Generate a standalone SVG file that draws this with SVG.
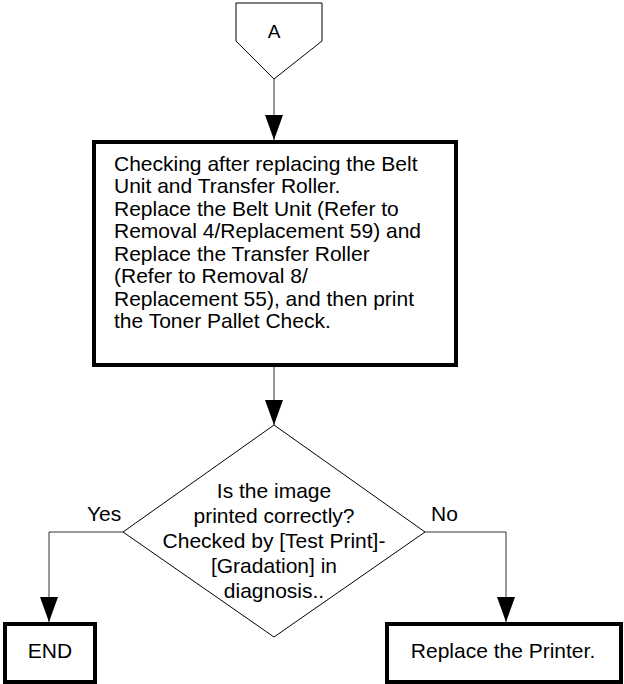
<svg xmlns="http://www.w3.org/2000/svg" width="624" height="684" viewBox="0 0 624 684">
<style>
  .t { font-family: "Liberation Sans", Arial, sans-serif; font-size: 21px; fill: #000; }
  .c { text-anchor: middle; }
  .thin { fill: #fff; stroke: #000; stroke-width: 1; }
  .thick { fill: #fff; stroke: #000; stroke-width: 4; }
  .conn { fill: none; stroke: #333; stroke-width: 1; }
</style>
<defs>
  <marker id="arr" markerUnits="userSpaceOnUse" markerWidth="25" markerHeight="18" refX="25" refY="9" orient="auto" viewBox="0 0 25 18">
    <path d="M0,0 L25,9 L0,18 z" fill="#000"/>
  </marker>
</defs>
<rect width="624" height="684" fill="#fff"/>
<g id="connectors">
  <path class="conn" d="M274,79 V140" marker-end="url(#arr)"/>
  <path class="conn" d="M274,367 V425" marker-end="url(#arr)"/>
  <path class="conn" d="M123,532 H49 V622" marker-end="url(#arr)"/>
  <path class="conn" d="M425,532 H506 V622" marker-end="url(#arr)"/>
</g>
<g id="nodeA">
  <polygon class="thin" points="236,3 322,3 322,41 274,79 236,41"/>
  <text class="t c" x="274" y="38" style="font-size:19px">A</text>
</g>
<g id="nodeCheck">
  <rect class="thick" x="94" y="142" width="362" height="223"/>
  <text class="t" x="114" y="170.5">Checking after replacing the Belt</text>
  <text class="t" x="114" y="193">Unit and Transfer Roller.</text>
  <text class="t" x="114" y="215.5">Replace the Belt Unit (Refer to</text>
  <text class="t" x="114" y="238">Removal 4/Replacement 59) and</text>
  <text class="t" x="114" y="260.5">Replace the Transfer Roller</text>
  <text class="t" x="114" y="283">(Refer to Removal 8/</text>
  <text class="t" x="114" y="305.5">Replacement 55), and then print</text>
  <text class="t" x="114" y="328">the Toner Pallet Check.</text>
</g>
<g id="nodeDecision">
  <polygon class="thin" points="274,425 425,532 274,637 123,532"/>
  <text class="t c" x="274" y="498">Is the image</text>
  <text class="t c" x="274" y="523">printed correctly?</text>
  <text class="t c" x="274" y="548">Checked by [Test Print]-</text>
  <text class="t c" x="274" y="573">[Gradation] in</text>
  <text class="t c" x="274" y="598">diagnosis..</text>
</g>
<g id="labels">
  <text class="t" x="87" y="521">Yes</text>
  <text class="t" x="431" y="521">No</text>
</g>
<g id="nodeEnd">
  <rect class="thick" x="5" y="624" width="90" height="58"/>
  <text class="t c" x="50" y="658">END</text>
</g>
<g id="nodeReplace">
  <rect class="thick" x="387" y="624" width="234" height="58"/>
  <text class="t c" x="503" y="658">Replace the Printer.</text>
</g>
</svg>
